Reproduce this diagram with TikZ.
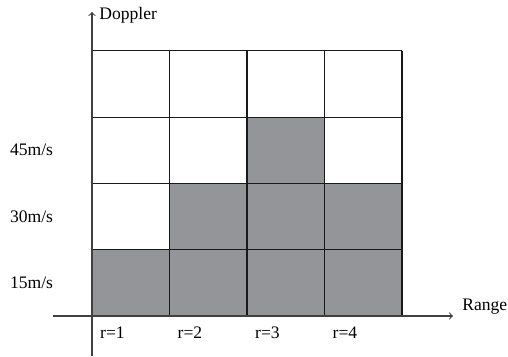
\documentclass[tikz,border=0pt]{standalone}
\usepackage{fontspec}
\setmainfont{Liberation Serif}
\usepackage{xcolor}
\usetikzlibrary{calc, positioning}
\definecolor{cellgray}{RGB}{147,149,152}

\begin{document}
\begin{tikzpicture}[>=to, line width=0.6pt]
    \useasboundingbox (-1.84,-0.82) rectangle (8.32,6.32);

    % 1. Shaded cells (column/row)
    \foreach \c/\r in {0/0,1/0,2/0,3/0,1/1,2/1,3/1,2/2}
        \fill[cellgray] (\c*1.55,\r*1.326) rectangle ++(1.55,1.326);

    % 2. Grid 4x4
    \draw[black!90] (0,0) grid[xstep=1.55, ystep=1.326] (6.2,5.304);

    % 3. Axes
    \coordinate (yb) at (0,-0.8);
    \coordinate (yt) at (0,6.08);
    \coordinate (xl) at (-0.78,0);
    \coordinate (xr) at (7.22,0);
    \draw[->, black!75] (yb) -- (yt);
    \draw[->, black!75] (xl) -- (xr);
    \node (doppler) [right=0.02cm of yt, yshift=-0.06cm] {Doppler};
    \node (range) [right=0.06cm of xr, yshift=0.18cm] {Range};

    % 4. Velocity labels
    \node (v1) at (-1.21,0.663) {15m/s};
    \node (v2) at (-1.21,1.989) {30m/s};
    \node (v3) at (-1.21,3.315) {45m/s};

    % 5. Range bin labels
    \foreach \i in {1,...,4}
        \node (r\i) at ({(\i-1)*1.55+0.41},-0.34) {r=\i};
\end{tikzpicture}
\end{document}
